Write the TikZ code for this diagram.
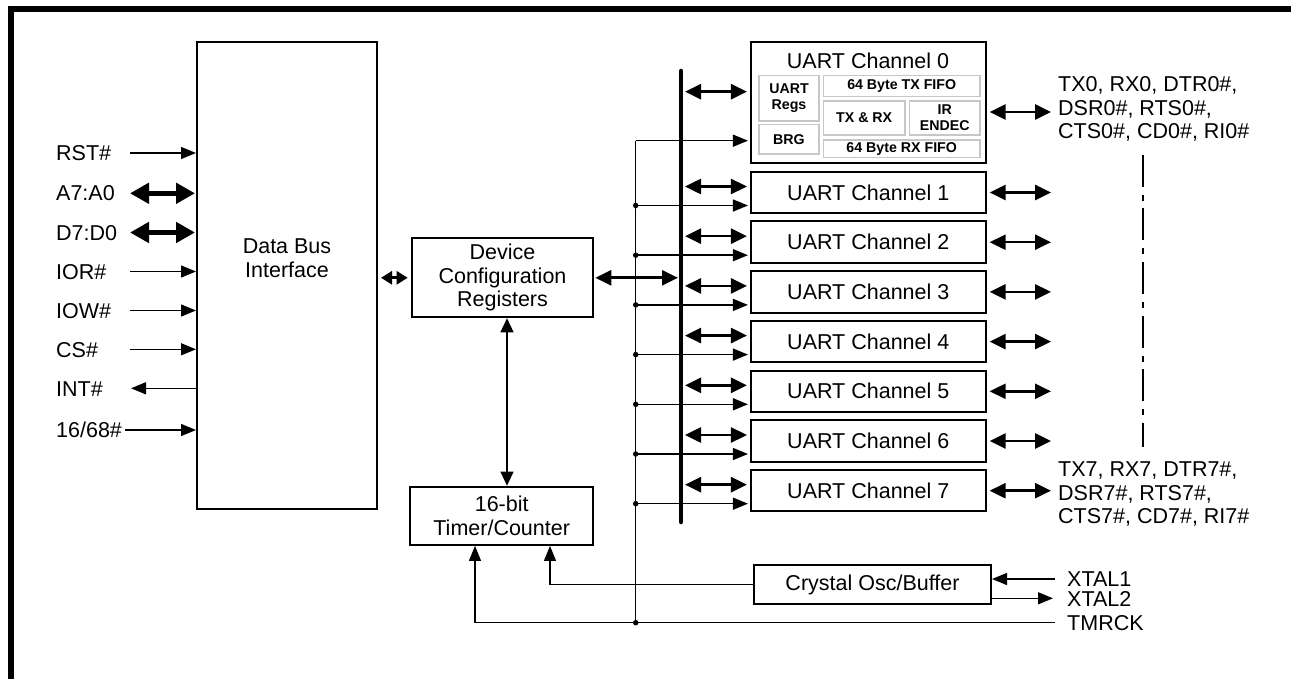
\documentclass[tikz,border=0pt]{standalone}
\usepackage{fontspec}
\setmainfont{Liberation Sans}
\usetikzlibrary{arrows.meta}
\newcommand\labfont{\fontsize{21.5pt}{23.5pt}\selectfont}
\newcommand\smfont{\fontsize{14.2pt}{15.7pt}\selectfont\bfseries}
\begin{document}
\begin{tikzpicture}[x=1pt,y=-1pt,
  box/.style={draw,line width=2pt,inner sep=0pt,align=center,font=\labfont},
  ibox/.style={draw=black!22,line width=1.6pt,inner sep=0pt,align=center,font=\smfont},
  txt/.style={inner sep=0pt,font=\labfont,text height=15.4pt,text depth=0pt},
  mtxt/.style={inner sep=0pt,font=\labfont,align=center},
  sig/.style={line width=1.4pt,-{Triangle[length=15pt,width=12pt]}},
  sigbi/.style={line width=1.4pt,{Triangle[length=14pt,width=13pt]}-{Triangle[length=14pt,width=13pt]}},
  bi/.style={line width=2.6pt,{Triangle[length=16pt,width=15pt]}-{Triangle[length=16pt,width=15pt]}},
  bismall/.style={line width=2.6pt,{Triangle[length=11pt,width=13pt]}-{Triangle[length=11pt,width=13pt]}},
  bibig/.style={line width=5pt,{Triangle[length=19pt,width=20pt]}-{Triangle[length=19pt,width=20pt]}},
  wire/.style={line width=1.4pt},
  jdot/.style={circle,fill,inner sep=0pt,minimum size=5.5pt},
]
\useasboundingbox (0,0) rectangle (1291,679);
% frame
\fill (8,6.5) rectangle (1291,12.5);
\fill (8,6.5) rectangle (14,679);

% data bus interface
\node[box,minimum width=180pt,minimum height=467pt] (dbi) at (287,275.5) {};
\node[mtxt] (dbit) at (287,258) {Data Bus\\Interface};

% left signals
\node[txt,anchor=west] (lrst) at (56,153) {RST\#};
\coordinate (crst) at (130,153);
\draw[sig] (crst) -- (crst -| dbi.west);

\node[txt,anchor=west] (la) at (56,193.3) {A7:A0};
\coordinate (ca) at (130,193.3);
\draw[bibig] (ca) -- ([xshift=-1pt]ca -| dbi.west);

\node[txt,anchor=west] (ld) at (56,232.5) {D7:D0};
\coordinate (cd) at (130,232.5);
\draw[bibig] (cd) -- ([xshift=-1pt]cd -| dbi.west);

\node[txt,anchor=west] (lior) at (56,271.5) {IOR\#};
\coordinate (cior) at (130,271.5);
\draw[sig] (cior) -- (cior -| dbi.west);

\node[txt,anchor=west] (liow) at (56,310.5) {IOW\#};
\coordinate (ciow) at (130,310.5);
\draw[sig] (ciow) -- (ciow -| dbi.west);

\node[txt,anchor=west] (lcs) at (56,349.3) {CS\#};
\coordinate (ccs) at (130,349.3);
\draw[sig] (ccs) -- (ccs -| dbi.west);

\node[txt,anchor=west] (lint) at (56,388.3) {INT\#};
\coordinate (cint) at (131,388.3);
\draw[sig] (cint -| dbi.west) -- (cint);

\node[txt,anchor=west] (l16) at (56,430) {16/68\#};
\coordinate (c16) at (125,430);
\draw[sig] (c16) -- (c16 -| dbi.west);

% device configuration registers
\node[box,minimum width=181.6pt,minimum height=79pt] (dcr) at (502.5,277.8) {Device\\Configuration\\Registers};
\draw[bismall] ([xshift=3pt]dbi.east |- dcr.west) -- ([xshift=-3pt]dcr.west);

% bus
\coordinate (bt) at (681,71);
\coordinate (bb) at (681,522);
\draw[line width=4.5pt,line cap=round] (bt) -- (bb);
\draw[bi] ([xshift=1pt]dcr.east) -- ([xshift=-3pt]dcr.east -| bt);

% timer
\node[box,minimum width=183.3pt,minimum height=58.3pt] (tmr) at (501.7,515.8) {16-bit\\Timer/Counter};
\coordinate (dt) at (507,0);
\draw[sigbi] (dcr.south -| dt) -- (tmr.north -| dt);

% UART channel 0
\node[box,minimum width=234.7pt,minimum height=121pt] (u0) at (868.3,102.8) {};
\node[txt] (u0t) at (868,61) {UART Channel 0};
\node[ibox,minimum width=60pt,minimum height=45.3pt] (regs) at (789,98.3) {UART\\Regs};
\node[ibox,minimum width=60pt,minimum height=29.7pt] (brg) at (789,139.2) {BRG};
\node[ibox,minimum width=156.7pt,minimum height=21pt] (txf) at (901.7,86.2) {64 Byte TX FIFO};
\node[ibox,minimum width=81.7pt,minimum height=34pt] (txrx) at (864.2,118) {TX \& RX};
\node[ibox,minimum width=70.7pt,minimum height=34pt] (ir) at (944.7,118) {IR\\ENDEC};
\node[ibox,minimum width=156.7pt,minimum height=17.7pt] (rxf) at (901.7,148.8) {64 Byte RX FIFO};

\coordinate (a0) at (685,91.7);
\draw[bi] (a0) -- ([xshift=-3pt]a0 -| u0.west);
\coordinate (vt) at (635.7,140.7);
\coordinate (vb) at (635.7,622.7);
\draw[wire] (vt) -- (vb);
\draw[sig] (vt) -- ([xshift=-2pt]vt -| u0.west);
\coordinate (r0) at (1051,112);
\draw[bi] ([xshift=3pt]r0 -| u0.east) -- (r0);
\node[mtxt,align=left,anchor=west] (t0) at (1058,109) {TX0, RX0, DTR0\#,\\DSR0\#, RTS0\#,\\CTS0\#, CD0\#, RI0\#};

% UART channels 1..7
\foreach \n in {1,...,7}{
  \pgfmathsetmacro\cy{192.5+49.7*(\n-1)}
  \node[box,minimum width=234.7pt,minimum height=41.5pt] (u\n) at (868.3,\cy) {UART Channel \n};
  \coordinate (a\n) at (685,\cy-6);
  \draw[bi] (a\n) -- ([xshift=-3pt]a\n -| u\n.west);
  \coordinate (s\n) at (635.7,\cy+13);
  \draw[sig] (s\n) -- ([xshift=-2pt]s\n -| u\n.west);
  \node[jdot] (d\n) at (s\n) {};
  \coordinate (r\n) at (1051,\cy);
  \draw[bi] ([xshift=3pt]r\n -| u\n.east) -- (r\n);
}
\node[mtxt,align=left,anchor=west] (t7) at (1058,494) {TX7, RX7, DTR7\#,\\DSR7\#, RTS7\#,\\CTS7\#, CD7\#, RI7\#};

% dash-dot continuation
\coordinate (dd1) at (1143.3,155);
\coordinate (dd2) at (1143.3,447);
\draw[line width=1.8pt,dash pattern=on 32pt off 8pt on 6pt off 7.5pt] (dd1) -- (dd2);

% crystal oscillator
\node[box,minimum width=237pt,minimum height=39pt] (xo) at (872.5,584.5) {Crystal Osc/Buffer};
\coordinate (x1) at (1055,579);
\draw[sig] (x1) -- (x1 -| xo.east);
\coordinate (x2) at (1053,598.3);
\draw[sig] (x2 -| xo.east) -- (x2);
\node[txt,anchor=west] (lx1) at (1067,579) {XTAL1};
\node[txt,anchor=west] (lx2) at (1067,598.5) {XTAL2};
\node[txt,anchor=west] (ltm) at (1067,622.7) {TMRCK};

\coordinate (tk) at (1055,622.7);
\coordinate (tx) at (475,0);
\draw[sig] (tk) -| (tx |- tmr.south);
\node[jdot] (dtk) at (vb) {};
\coordinate (cxc) at (550,0);
\draw[sig] (xo.west) -| (cxc |- tmr.south);
\end{tikzpicture}
\end{document}
